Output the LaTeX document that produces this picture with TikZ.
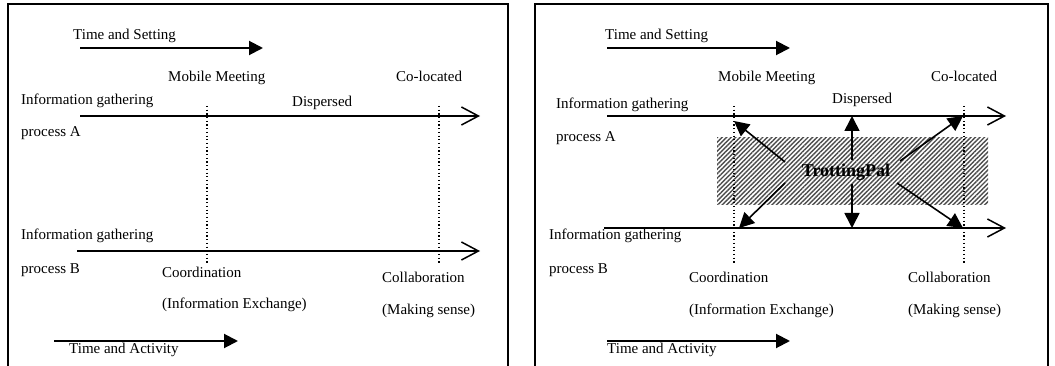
\documentclass[tikz,border=0pt]{standalone}
\usepackage{fontspec}
\setmainfont{Liberation Serif}
\usetikzlibrary{arrows.meta,patterns.meta}
\tikzset{frame/.style={line width=1.5pt},
  lbl/.style={anchor=base west,inner sep=0pt,font=\fontsize{15}{18}\selectfont},
  timearrow/.style={line width=2pt,-{Triangle[length=14pt,width=14pt]}},
  axis/.style={line width=1.5pt,-{Straight Barb[length=17pt,width=18pt,line width=1.5pt]}},
  marker/.style={dash pattern=on 1.2pt off 2.5pt,line width=1.2pt},
  tparrow/.style={line width=1.6pt,-{Triangle[length=15pt,width=15pt]}},
  hatch/.style={pattern={Lines[angle=45,distance=3.2pt,line width=1.4pt]},pattern color=black!70}}

\begin{document}
\begin{tikzpicture}[x=1pt,y=-1pt]
    \useasboundingbox (0,0) rectangle (1055,366);
    % left panel
    \draw[frame] (8,366) -- (8,4) -- (508,4) -- (508,366);
    \node[lbl] (ltset) at (73,40) {Time and Setting};
    \coordinate (ltsS) at (80,48); \coordinate (ltsE) at (263,48);
    \draw[timearrow] (ltsS) -- (ltsE);
    \node[lbl] (lmob) at (168,82) {Mobile Meeting};
    \node[lbl] (lcol) at (396,82) {Co-located};
    \node[lbl] (linfa) at (21,105) {Information gathering};
    \node[lbl] (ldisp) at (292,107) {Dispersed};
    \node[lbl] (lproca) at (21,137) {process A};
    \coordinate (laS) at (80,116); \coordinate (laE) at (480,116);
    \draw[axis] (laS) -- (laE);
    \coordinate (lm1) at (207,106); \coordinate (lm1b) at (207,263);
    \coordinate (lm2) at (439,106); \coordinate (lm2b) at (439,263);
    \draw[marker] (lm1) -- (lm1b);
    \draw[marker] (lm2) -- (lm2b);
    \node[lbl] (linfb) at (21,240) {Information gathering};
    \coordinate (lbS) at (77,251); \coordinate (lbE) at (480,251);
    \draw[axis] (lbS) -- (lbE);
    \node[lbl] (lprocb) at (21,273) {process B};
    \node[lbl] (lcoord) at (162,277) {Coordination};
    \node[lbl] (lexch) at (162,308) {(Information Exchange)};
    \node[lbl] (lcollab) at (382,282) {Collaboration};
    \node[lbl] (lsense) at (382,314) {(Making sense)};
    \coordinate (ltaS) at (54,341); \coordinate (ltaE) at (238,341);
    \draw[timearrow] (ltaS) -- (ltaE);
    \node[lbl] (ltact) at (69,353) {Time and Activity};
    % right panel
    \draw[frame] (535,366) -- (535,4) -- (1048,4) -- (1048,366);
    \fill[hatch] (717,138) rectangle (988,205);
    \node[lbl] (rtset) at (605,40) {Time and Setting};
    \coordinate (rtsS) at (607,48); \coordinate (rtsE) at (790,48);
    \draw[timearrow] (rtsS) -- (rtsE);
    \node[lbl] (rmob) at (718,82) {Mobile Meeting};
    \node[lbl] (rcol) at (931,82) {Co-located};
    \node[lbl] (rinfa) at (556,109) {Information gathering};
    \node[lbl] (rdisp) at (832,104) {Dispersed};
    \node[lbl] (rproca) at (556,142) {process A};
    \coordinate (raS) at (607,116); \coordinate (raE) at (1006,116);
    \draw[axis] (raS) -- (raE);
    \coordinate (rm1) at (734,106); \coordinate (rm1b) at (734,263);
    \coordinate (rm2) at (964,106); \coordinate (rm2b) at (964,263);
    \draw[marker] (rm1) -- (rm1b);
    \draw[marker] (rm2) -- (rm2b);
    \node[lbl] (rinfb) at (549,240) {Information gathering};
    \coordinate (rbS) at (604,228); \coordinate (rbE) at (1006,228);
    \draw[axis] (rbS) -- (rbE);
    \node[lbl] (rprocb) at (549,273) {process B};
    \node[lbl] (rcoord) at (689,283) {Coordination};
    \node[lbl] (rexch) at (689,314) {(Information Exchange)};
    \node[lbl] (rcollab) at (908,283) {Collaboration};
    \node[lbl] (rsense) at (908,314) {(Making sense)};
    \coordinate (rtaS) at (607,341); \coordinate (rtaE) at (790,341);
    \draw[timearrow] (rtaS) -- (rtaE);
    \node[lbl] (rtact) at (607,353) {Time and Activity};
    \node[inner sep=0pt,font=\fontsize{18}{20}\selectfont\bfseries] (tp) at (846,172) {TrottingPal};
    \coordinate (tpul) at (785,162); \coordinate (tpu) at (852,160);
    \coordinate (tpur) at (900,161); \coordinate (tpll) at (785,183);
    \coordinate (tpd) at (852,184); \coordinate (tplr) at (897,183);
    \coordinate (hul) at (734,121); \coordinate (hu) at (852,116);
    \coordinate (hur) at (963,116); \coordinate (hll) at (739,228);
    \coordinate (hd) at (852,228); \coordinate (hlr) at (963,228);
    \draw[tparrow] (tpul) -- (hul);
    \draw[tparrow] (tpu) -- (hu);
    \draw[tparrow] (tpur) -- (hur);
    \draw[tparrow] (tpll) -- (hll);
    \draw[tparrow] (tpd) -- (hd);
    \draw[tparrow] (tplr) -- (hlr);
\end{tikzpicture}
\end{document}
